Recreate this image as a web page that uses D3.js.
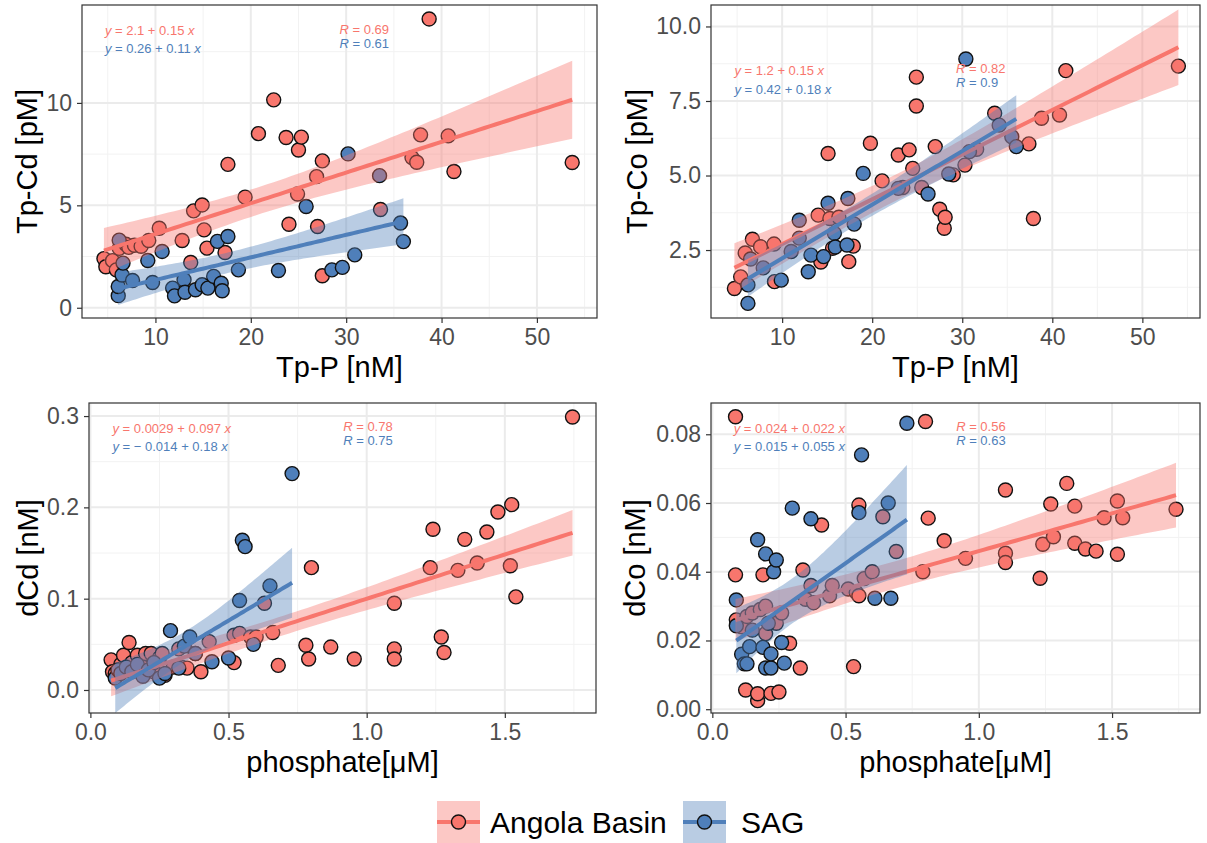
<!DOCTYPE html>
<html>
<head>
<meta charset="utf-8">
<script src="https://cdn.jsdelivr.net/npm/d3@7"></script>
<style>
  body { margin: 0; background: #fff; }
  svg { display: block; font-family: "Liberation Sans", Arial, sans-serif; }
</style>
</head>
<body>
<svg id="chart" width="1207" height="843"></svg>
<script>
// ---- data: [x, y] pairs ----
const tpCdAngola = [[4.6,2.4],[4.8,2.0],[5.5,2.3],[5.9,1.85],[6.2,2.9],[6.9,3.1],[7.2,2.95],[7.8,3.05],[8.5,3.0],[9.3,3.28],[10.4,3.88],[12.8,3.28],[13.7,2.21],[14.0,4.73],[14.9,5.02],[15.1,3.8],[15.4,2.91],[17.3,2.7],[17.6,7.0],[19.4,5.4],[20.8,8.5],[22.4,10.15],[23.7,8.31],[24.0,4.08],[24.9,5.55],[25.0,7.7],[25.3,8.33],[26.9,6.4],[27.0,3.97],[27.5,7.17],[27.5,1.56],[33.6,4.8],[36.9,7.33],[37.4,7.1],[37.8,8.44],[38.7,14.1],[40.7,8.39],[41.3,6.65],[53.7,7.09]];
const tpCdSag = [[6.1,0.59],[6.1,1.04],[6.2,3.3],[6.5,1.6],[6.6,2.18],[7.6,1.33],[9.2,2.31],[9.7,1.23],[10.7,2.75],[11.8,0.96],[12.0,0.58],[13.0,1.37],[13.1,0.76],[14.2,0.88],[14.9,1.12],[15.5,0.96],[16.1,1.53],[16.5,3.24],[16.9,1.2],[17.0,0.83],[17.6,3.48],[18.7,1.85],[22.9,1.82],[25.8,4.94],[28.5,1.85],[29.6,1.97],[30.2,7.51],[30.9,2.58],[33.5,6.45],[35.7,4.14],[36.0,3.23]];

const tpCoAngola = [[4.7,1.21],[5.4,1.6],[5.9,2.4],[6.7,2.86],[7.6,2.61],[9.1,2.7],[9.15,1.44],[14.0,3.67],[14.3,2.1],[15.1,5.74],[15.3,3.56],[15.6,2.56],[16.3,3.6],[17.4,2.11],[17.9,2.63],[19.8,6.08],[21.1,4.82],[22.9,5.69],[23.4,4.6],[24.1,5.86],[24.5,5.24],[24.9,8.3],[24.9,7.33],[25.5,4.6],[27.0,5.97],[27.5,3.87],[28.0,3.23],[28.1,3.6],[29.0,5.02],[30.3,5.35],[31.6,5.88],[33.6,7.09],[37.4,6.06],[37.9,3.56],[38.8,6.92],[40.8,7.03],[41.5,8.52],[54.0,8.67]];
const tpCoSag = [[6.2,0.71],[6.2,1.33],[6.5,2.2],[7.9,1.9],[9.9,1.49],[11.0,2.45],[11.9,3.5],[11.9,2.9],[12.9,1.77],[13.2,2.33],[14.6,2.28],[15.1,4.07],[15.8,3.06],[15.9,2.6],[17.2,2.67],[17.3,4.23],[18.0,3.37],[19.0,5.07],[22.9,4.57],[26.2,4.38],[28.5,5.05],[30.4,8.91],[30.8,5.8],[34.1,6.69],[35.5,6.3],[36.0,5.97]];

const dCdAngola = [[0.075,0.033],[0.08,0.02],[0.09,0.018],[0.11,0.028],[0.12,0.038],[0.14,0.052],[0.15,0.03],[0.17,0.038],[0.19,0.025],[0.2,0.04],[0.22,0.04],[0.23,0.02],[0.25,0.035],[0.26,0.04],[0.27,0.016],[0.3,0.025],[0.32,0.045],[0.33,0.025],[0.35,0.024],[0.38,0.04],[0.4,0.02],[0.43,0.053],[0.52,0.06],[0.52,0.03],[0.54,0.062],[0.58,0.058],[0.6,0.058],[0.63,0.095],[0.66,0.063],[0.68,0.027],[0.78,0.049],[0.79,0.034],[0.8,0.134],[0.87,0.047],[0.955,0.034],[1.1,0.095],[1.1,0.045],[1.1,0.034],[1.23,0.134],[1.24,0.176],[1.27,0.058],[1.28,0.041],[1.33,0.131],[1.355,0.165],[1.4,0.139],[1.435,0.173],[1.475,0.195],[1.52,0.136],[1.525,0.203],[1.54,0.102],[1.745,0.299]];
const dCdSag = [[0.09,0.013],[0.1,0.022],[0.11,0.018],[0.13,0.025],[0.15,0.02],[0.17,0.028],[0.19,0.015],[0.21,0.022],[0.23,0.03],[0.25,0.013],[0.27,0.018],[0.29,0.065],[0.32,0.024],[0.34,0.048],[0.36,0.058],[0.38,0.04],[0.44,0.031],[0.5,0.035],[0.54,0.098],[0.55,0.164],[0.56,0.157],[0.59,0.05],[0.65,0.114],[0.73,0.237]];

const dCoAngola = [[0.087,0.0851],[0.087,0.0391],[0.09,0.026],[0.11,0.024],[0.125,0.0056],[0.13,0.027],[0.15,0.028],[0.17,0.0025],[0.17,0.0045],[0.18,0.029],[0.19,0.0391],[0.2,0.03],[0.2,0.022],[0.22,0.0046],[0.24,0.025],[0.25,0.005],[0.26,0.028],[0.29,0.0192],[0.33,0.012],[0.34,0.0405],[0.35,0.032],[0.37,0.036],[0.38,0.031],[0.41,0.0536],[0.44,0.033],[0.45,0.036],[0.51,0.035],[0.53,0.0124],[0.54,0.034],[0.55,0.0594],[0.55,0.033],[0.57,0.038],[0.6,0.04],[0.64,0.056],[0.69,0.0459],[0.79,0.040],[0.80,0.0837],[0.81,0.0556],[0.87,0.049],[0.95,0.0439],[1.1,0.0638],[1.1,0.0454],[1.1,0.0427],[1.23,0.0381],[1.24,0.048],[1.27,0.0597],[1.28,0.0502],[1.33,0.0657],[1.36,0.0591],[1.36,0.0483],[1.4,0.0466],[1.44,0.046],[1.47,0.0557],[1.52,0.0606],[1.52,0.0451],[1.54,0.0557],[1.74,0.0582]];
const dCoSag = [[0.09,0.0318],[0.09,0.0243],[0.11,0.016],[0.12,0.0132],[0.13,0.0132],[0.14,0.0182],[0.15,0.023],[0.17,0.0493],[0.19,0.018],[0.2,0.0452],[0.2,0.012],[0.21,0.025],[0.22,0.012],[0.22,0.0161],[0.23,0.040],[0.24,0.0434],[0.26,0.0194],[0.27,0.0134],[0.30,0.0585],[0.37,0.0554],[0.55,0.0572],[0.56,0.074],[0.61,0.0323],[0.66,0.060],[0.67,0.0323],[0.73,0.0832]];

// regression labels printed on the figure: [intercept, slope, R]
const tpCdFit = { angola: [2.1, 0.15, 0.69], sag: [0.26, 0.11, 0.61] };
const tpCoFit = { angola: [1.2, 0.15, 0.82], sag: [0.42, 0.18, 0.9] };
const dCdFit = { angola: [0.0029, 0.097, 0.78], sag: [-0.014, 0.18, 0.75] };
const dCoFit = { angola: [0.024, 0.022, 0.56], sag: [0.015, 0.055, 0.63] };

const tpTicks = [10, 20, 30, 40, 50];
const phTicks = [0, 0.5, 1, 1.5];
const seriesNames = ["Angola Basin", "SAG"];
const colors = { angola: "#F8766D", sag: "#4F7FBA" };

const svg = d3.select("#chart");

// approx two-sided 95% t quantile
function tQuant(df) {
    const z = 1.959964;
    return z + (z ** 3 + z) / (4 * df) + (5 * z ** 5 + 16 * z ** 3 + 3 * z) / (96 * df * df);
}

function bandData(pts, coef) {
    const n = pts.length;
    const xbar = d3.mean(pts, d => d[0]);
    const sxx = d3.sum(pts, d => (d[0] - xbar) ** 2);
    const s = Math.sqrt(d3.sum(pts, d => (d[1] - coef[0] - coef[1] * d[0]) ** 2) / (n - 2));
    const t = tQuant(n - 2);
    const [x0, x1] = d3.extent(pts, d => d[0]);
    return d3.range(81).map(i => {
        const x = x0 + (x1 - x0) * i / 80;
        const yh = coef[0] + coef[1] * x;
        const se = s * Math.sqrt(1 / n + (x - xbar) ** 2 / sxx);
        return { x, y: yh, lo: yh - t * se, hi: yh + t * se };
    });
}

function eqText(sel, coef) {
    const b0 = coef[0] < 0 ? "\u2212 " + Math.abs(coef[0]) : coef[0];
    sel.append("tspan").attr("font-style", "italic").text("y");
    sel.append("tspan").text(" = " + b0 + " + " + coef[1] + " ");
    sel.append("tspan").attr("font-style", "italic").text("x");
}

let clipId = 0;
function drawPanel(p) {
    const x = d3.scaleLinear().domain(p.xDomain).range([p.left, p.right]);
    const y = d3.scaleLinear().domain(p.yDomain).range([p.bottom, p.top]);
    const g = svg.append("g");

    // grid
    g.selectAll(".gxm").data(p.xMinor).join("line")
        .attr("x1", d => x(d)).attr("x2", d => x(d)).attr("y1", p.top).attr("y2", p.bottom)
        .attr("stroke", "#F2F2F2").attr("stroke-width", 1);
    g.selectAll(".gym").data(p.yMinor).join("line")
        .attr("y1", d => y(d)).attr("y2", d => y(d)).attr("x1", p.left).attr("x2", p.right)
        .attr("stroke", "#F2F2F2").attr("stroke-width", 1);
    g.selectAll(".gx").data(p.xTicks).join("line")
        .attr("x1", d => x(d)).attr("x2", d => x(d)).attr("y1", p.top).attr("y2", p.bottom)
        .attr("stroke", "#EBEBEB").attr("stroke-width", 2);
    g.selectAll(".gy").data(p.yTicks).join("line")
        .attr("y1", d => y(d)).attr("y2", d => y(d)).attr("x1", p.left).attr("x2", p.right)
        .attr("stroke", "#EBEBEB").attr("stroke-width", 2);

    const cid = "clip" + (clipId++);
    svg.append("clipPath").attr("id", cid).append("rect")
        .attr("x", p.left).attr("y", p.top).attr("width", p.right - p.left).attr("height", p.bottom - p.top);
    const inner = g.append("g").attr("clip-path", `url(#${cid})`);

    // points first, smooths on top
    [["angola", p.angola], ["sag", p.sag]].forEach(([k, pts]) => {
        inner.append("g").selectAll("circle").data(pts).join("circle")
            .attr("cx", d => x(d[0])).attr("cy", d => y(d[1])).attr("r", 7)
            .attr("fill", colors[k]).attr("stroke", "#111").attr("stroke-width", 1.4);
    });
    [["angola", p.angola], ["sag", p.sag]].forEach(([k, pts]) => {
        const bd = bandData(pts, p.fit[k]);
        inner.append("path").datum(bd)
            .attr("d", d3.area().x(d => x(d.x)).y0(d => y(d.lo)).y1(d => y(d.hi)))
            .attr("fill", colors[k]).attr("fill-opacity", 0.4);
        inner.append("path").datum(bd)
            .attr("d", d3.line().x(d => x(d.x)).y(d => y(d.y)))
            .attr("fill", "none").attr("stroke", colors[k]).attr("stroke-width", 4);
    });

    // labels
    const eqx = x(p.eqX), rx = x(p.rX);
    ["angola", "sag"].forEach((k, i) => {
        const t = g.append("text").attr("x", eqx).attr("y", p.top + p.eqY[i])
            .attr("font-size", 13).attr("fill", colors[k]);
        eqText(t, p.fit[k]);
        const r = g.append("text").attr("x", rx).attr("y", p.top + p.rY[i])
            .attr("font-size", 13).attr("fill", colors[k]);
        r.append("tspan").attr("font-style", "italic").text("R");
        r.append("tspan").text(" = " + p.fit[k][2]);
    });

    // border
    g.append("rect").attr("x", p.left).attr("y", p.top)
        .attr("width", p.right - p.left).attr("height", p.bottom - p.top)
        .attr("fill", "none").attr("stroke", "#333").attr("stroke-width", 1.2);

    // axes
    const xAxis = g.append("g").attr("transform", `translate(0,${p.bottom})`)
        .call(d3.axisBottom(x).tickValues(p.xTicks).tickFormat(p.xFmt).tickSize(5).tickPadding(6));
    const yAxis = g.append("g").attr("transform", `translate(${p.left},0)`)
        .call(d3.axisLeft(y).tickValues(p.yTicks).tickFormat(p.yFmt).tickSize(5).tickPadding(5));
    [xAxis, yAxis].forEach(a => {
        a.select(".domain").remove();
        a.selectAll(".tick line").attr("stroke", "#333").attr("stroke-width", 1.2);
        a.selectAll(".tick text").attr("fill", "#4D4D4D").attr("font-size", 23)
            .attr("font-family", "Liberation Sans, Arial, sans-serif");
    });

    g.append("text").attr("x", (p.left + p.right) / 2).attr("y", p.bottom + 59)
        .attr("text-anchor", "middle").attr("font-size", 29).attr("fill", "#000").text(p.xTitle);
    g.append("text")
        .attr("transform", `translate(${p.yTitleX},${(p.top + p.bottom) / 2}) rotate(-90)`)
        .attr("text-anchor", "middle").attr("dominant-baseline", "central")
        .attr("font-size", 29).attr("fill", "#000").text(p.yTitle);
}

const f1 = d3.format(".1f"), f2 = d3.format(".2f");

drawPanel({
    left: 82, right: 597, top: 5, bottom: 318,
    xDomain: [2.3, 56.3], yDomain: [-0.5, 14.78],
    xTicks: tpTicks, yTicks: [0, 5, 10], xMinor: [5, 15, 25, 35, 45, 55], yMinor: [2.5, 7.5, 12.5],
    xFmt: d3.format("d"), yFmt: d3.format("d"),
    angola: tpCdAngola, sag: tpCdSag, fit: tpCdFit,
    eqX: 4.7, rX: 29.3, eqY: [30, 48], rY: [29, 43],
    xTitle: "Tp-P [nM]", yTitle: "Tp-Cd [pM]", yTitleX: 27
});
drawPanel({
    left: 711, right: 1200, top: 5, bottom: 318,
    xDomain: [2.1, 56.4], yDomain: [0.22, 10.72],
    xTicks: tpTicks, yTicks: [2.5, 5, 7.5, 10], xMinor: [5, 15, 25, 35, 45, 55], yMinor: [1.25, 3.75, 6.25, 8.75],
    xFmt: d3.format("d"), yFmt: f1,
    angola: tpCoAngola, sag: tpCoSag, fit: tpCoFit,
    eqX: 4.7, rX: 29.3, eqY: [70, 89], rY: [68, 82],
    xTitle: "Tp-P [nM]", yTitle: "Tp-Co [pM]", yTitleX: 637
});
drawPanel({
    left: 89, right: 596, top: 403, bottom: 713,
    xDomain: [-0.005, 1.83], yDomain: [-0.0252, 0.3143],
    xTicks: phTicks, yTicks: [0, 0.1, 0.2, 0.3], xMinor: [0.25, 0.75, 1.25, 1.75], yMinor: [0.05, 0.15, 0.25],
    xFmt: f1, yFmt: f1,
    angola: dCdAngola, sag: dCdSag, fit: dCdFit,
    eqX: 0.08, rX: 0.915, eqY: [30, 48], rY: [28, 42],
    xTitle: "phosphate[\u03BCM]", yTitle: "dCd [nM]", yTitleX: 28
});
drawPanel({
    left: 711, right: 1200, top: 403, bottom: 713,
    xDomain: [-0.005, 1.83], yDomain: [-0.0011, 0.0891],
    xTicks: phTicks, yTicks: [0, 0.02, 0.04, 0.06, 0.08], xMinor: [0.25, 0.75, 1.25, 1.75], yMinor: [0.01, 0.03, 0.05, 0.07],
    xFmt: f1, yFmt: f2,
    angola: dCoAngola, sag: dCoSag, fit: dCoFit,
    eqX: 0.08, rX: 0.915, eqY: [30, 48], rY: [28, 42],
    xTitle: "phosphate[\u03BCM]", yTitle: "dCo [nM]", yTitleX: 635
});

// legend
const legend = svg.append("g");
const keyX = [437, 683], textX = [490, 741];
["angola", "sag"].forEach((k, i) => {
    const kg = legend.append("g").attr("transform", `translate(${keyX[i]},801)`);
    kg.append("rect").attr("width", 43).attr("height", 42).attr("fill", colors[k]).attr("fill-opacity", 0.4);
    kg.append("line").attr("x1", 0).attr("x2", 43).attr("y1", 21).attr("y2", 21)
        .attr("stroke", colors[k]).attr("stroke-width", 4);
    kg.append("circle").attr("cx", 21.5).attr("cy", 21).attr("r", 7)
        .attr("fill", colors[k]).attr("stroke", "#111").attr("stroke-width", 1.4);
    legend.append("text").attr("x", textX[i]).attr("y", 822).attr("dominant-baseline", "central")
        .attr("font-size", 30).attr("fill", "#000").text(seriesNames[i]);
});
</script>
</body>
</html>
